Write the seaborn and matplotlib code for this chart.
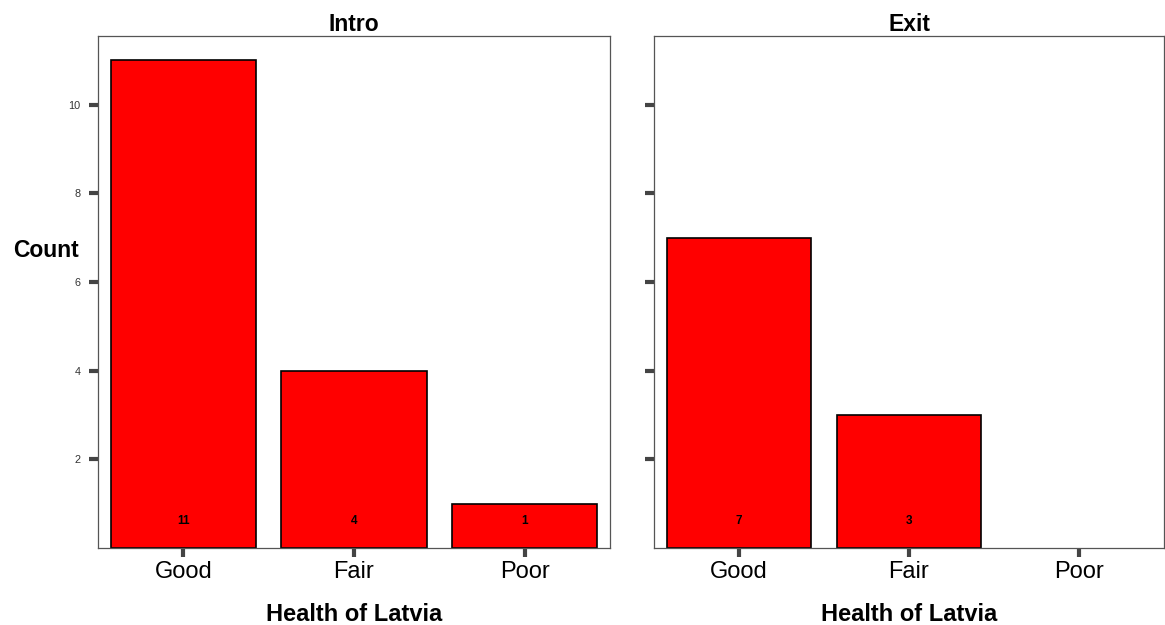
import matplotlib
matplotlib.use("Agg")
import matplotlib.pyplot as plt
import seaborn as sns
import pandas as pd

categories = ["Good", "Fair", "Poor"]
intro_counts = [11, 4, 1]
exit_counts = [7, 3, 0]
panels = ["Intro", "Exit"]

sns.set_style("white")
plt.rcParams['font.family'] = ['Liberation Sans', 'DejaVu Sans']
plt.rcParams['text.color'] = 'black'

W, H = 1165, 625
fig = plt.figure(figsize=(W / 100, H / 100), dpi=100)
axL = fig.add_axes([98 / W, 1 - 548 / H, 512 / W, 512 / H])
axR = fig.add_axes([654 / W, 1 - 548 / H, 510 / W, 512 / H], sharey=axL)

for ax, name, vals in [(axL, panels[0], intro_counts), (axR, panels[1], exit_counts)]:
    df = pd.DataFrame({"cat": categories, "n": vals})
    sns.barplot(data=df, x="cat", y="n", ax=ax, color="#FF0000", saturation=1,
                edgecolor="black", linewidth=1.2, width=0.85)
    for p in ax.patches:
        if p.get_height() == 0:
            p.set_linewidth(0)
    for i, v in enumerate(vals):
        if v > 0:
            ax.text(i, 0.6, str(v), ha="center", va="center", fontsize=8.5,
                    fontweight="bold", color="black")
    ax.set_xlim(-0.5, 2.5)
    ax.set_ylim(0, 11.55)
    ax.set_yticks([2, 4, 6, 8, 10])
    ax.set_title(name, fontsize=16.5, fontweight="bold", pad=3.5, color="black")
    ax.set_xlabel("Health of Latvia", fontsize=17, fontweight="bold", labelpad=14,
                  color="black")
    ax.tick_params(axis="both", direction="out", length=6.5, width=3, color="#444444",
                   bottom=True, left=True, labelcolor="black")
    ax.tick_params(axis="x", labelsize=17, pad=3)
    ax.tick_params(axis="y", labelsize=7.8, pad=6, labelcolor="#333333")
    for s in ax.spines.values():
        s.set_color("#555555")
        s.set_linewidth(0.9)

axL.set_ylabel("Count", fontsize=16.5, fontweight="bold", rotation=0, va="center",
               ha="center", color="black")
axL.yaxis.set_label_coords(-0.1025, 0.582)
axR.set_ylabel("")
plt.setp(axR.get_yticklabels(), visible=False)

fig.savefig("out.png", dpi=100)
